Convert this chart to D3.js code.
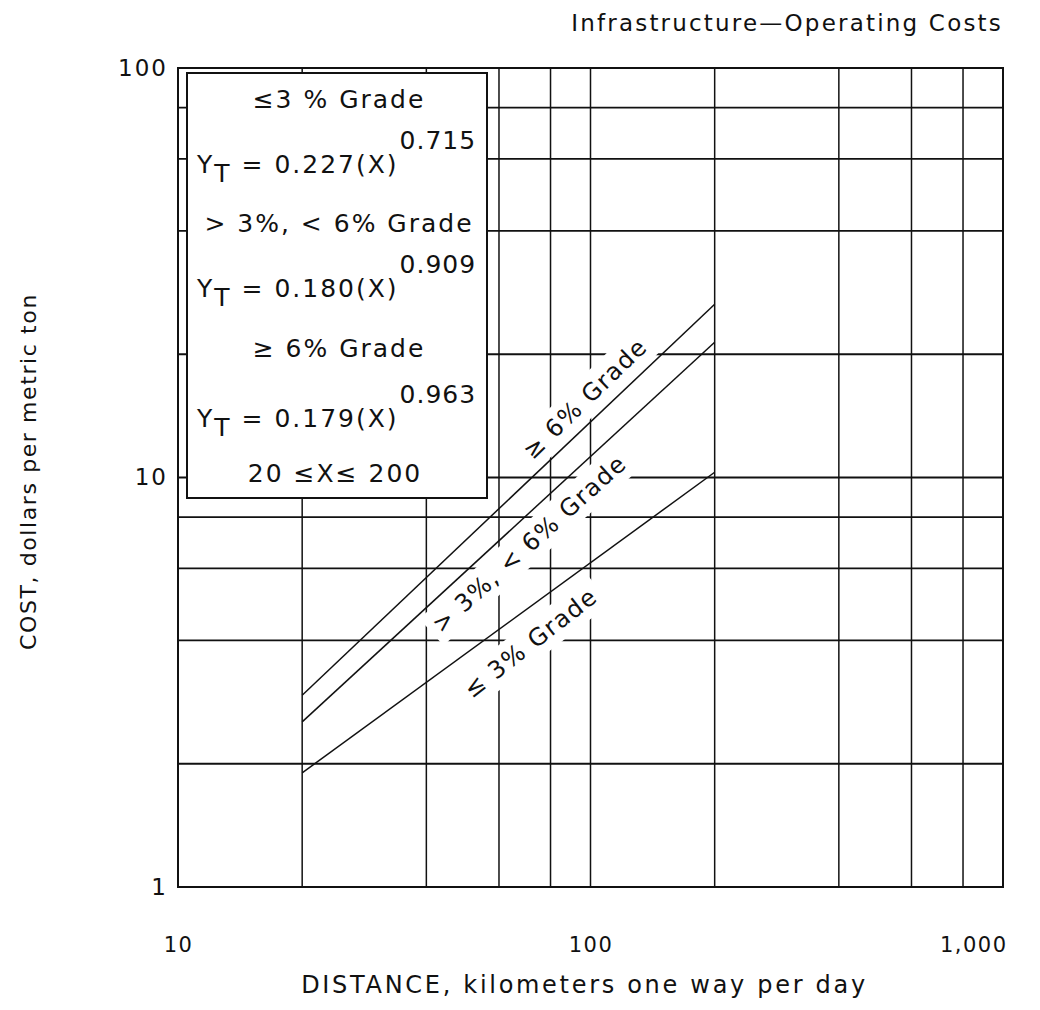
<!DOCTYPE html>
<html>
<head>
<meta charset="utf-8">
<script src="https://cdn.jsdelivr.net/npm/d3@7"></script>
<style>
  body { margin: 0; background: #fff; }
  text { font-family: "DejaVu Sans", sans-serif; fill: #111; }
</style>
</head>
<body>
<div id="chart"></div>
<script>
// chart data
var xTicks = [10, 100, 1000];
var yTicks = [1, 10, 100];
var xGrid = [20, 40, 60, 80, 100, 200, 400, 600, 800];
var yGrid = [2, 4, 6, 8, 10, 20, 40, 60, 80];

var distance = [20, 200];
var costLow = [1.9, 10.3];    // <= 3% grade
var costMid = [2.53, 21.4];   // > 3%, < 6% grade
var costHigh = [2.94, 26.5];  // >= 6% grade

var gradeLabels = ["\u2264 3% Grade", "> 3%,  < 6% Grade", "\u2265 6% Grade"];
// where each grade label sits, in data units (distance, cost), and its angle
var labelX = [71.5, 71, 97];
var labelY = [3.95, 6.9, 15.6];
var labelAngle = [-38, -42, -44];

var svgWidth = 1040;
var svgHeight = 1010;

var margin = { top: 68, right: 37, bottom: 123, left: 178 };
var width = svgWidth - margin.left - margin.right;
var height = svgHeight - margin.top - margin.bottom;

var svg = d3.select("#chart")
  .append("svg")
  .attr("width", svgWidth)
  .attr("height", svgHeight);

var chartGroup = svg.append("g")
  .attr("transform", `translate(${margin.left}, ${margin.top})`);

// scales
var xLogScale = d3.scaleLog().domain([10, 1000]).range([0, width]);
var yLogScale = d3.scaleLog().domain([1, 100]).range([height, 0]);

// grid lines
chartGroup.selectAll(".vgrid")
  .data(xGrid)
  .enter()
  .append("line")
  .attr("x1", d => xLogScale(d))
  .attr("x2", d => xLogScale(d))
  .attr("y1", 0)
  .attr("y2", height)
  .attr("stroke", "#111")
  .attr("stroke-width", 1.5);

chartGroup.selectAll(".hgrid")
  .data(yGrid)
  .enter()
  .append("line")
  .attr("x1", 0)
  .attr("x2", width)
  .attr("y1", d => yLogScale(d))
  .attr("y2", d => yLogScale(d))
  .attr("stroke", "#111")
  .attr("stroke-width", 1.8);

// frame
chartGroup.append("rect")
  .attr("width", width)
  .attr("height", height)
  .attr("fill", "none")
  .attr("stroke", "#111")
  .attr("stroke-width", 2);

// axes (labels only, the frame is the axis line)
var bottomAxis = d3.axisBottom(xLogScale)
  .tickValues(xTicks)
  .tickFormat(d3.format(","))
  .tickSize(0)
  .tickPadding(50);

var leftAxis = d3.axisLeft(yLogScale)
  .tickValues(yTicks)
  .tickFormat(d3.format(","))
  .tickSize(0)
  .tickPadding(10);

var xAxisG = chartGroup.append("g")
  .attr("transform", `translate(0, ${height})`)
  .call(bottomAxis);

var yAxisG = chartGroup.append("g")
  .call(leftAxis);

xAxisG.select(".domain").remove();
yAxisG.select(".domain").remove();
xAxisG.selectAll("text")
  .style("font-family", "DejaVu Sans, sans-serif")
  .style("font-size", "21px")
  .style("letter-spacing", "1.5px")
  .attr("fill", "#111");
yAxisG.selectAll("text")
  .style("font-family", "DejaVu Sans, sans-serif")
  .style("font-size", "23px")
  .style("letter-spacing", "2px")
  .attr("fill", "#111");
xAxisG.selectAll("text").filter(d => d === 1000).attr("text-anchor", "end").attr("dx", "4");

// grade labels, with a white patch behind so the grid breaks round them
var labelGroups = chartGroup.selectAll(".gradeLabel")
  .data(gradeLabels)
  .enter()
  .append("g")
  .classed("gradeLabel", true)
  .attr("transform", (d, i) => `translate(${xLogScale(labelX[i])}, ${yLogScale(labelY[i])}) rotate(${labelAngle[i]})`);

labelGroups.append("rect").attr("fill", "#fff");

labelGroups.append("text")
  .attr("text-anchor", "middle")
  .attr("dy", "0.35em")
  .style("font-size", "24px")
  .style("letter-spacing", "1.5px")
  .text(d => d);

labelGroups.each(function() {
  var g = d3.select(this);
  var bb = g.select("text").node().getBBox();
  g.select("rect")
    .attr("x", bb.x - 6)
    .attr("y", bb.y - 4)
    .attr("width", bb.width + 12)
    .attr("height", bb.height + 8);
});

// the three cost lines
var lineGen = d3.line()
  .x(d => xLogScale(d[0]))
  .y(d => yLogScale(d[1]));

[costLow, costMid, costHigh].forEach(function(cost) {
  chartGroup.append("path")
    .datum(distance.map((d, i) => [d, cost[i]]))
    .attr("d", lineGen)
    .attr("fill", "none")
    .attr("stroke", "#111")
    .attr("stroke-width", 1.5);
});

// legend box with the equations
var legend = chartGroup.append("g")
  .attr("transform", "translate(9, 5)");

legend.append("rect")
  .attr("width", 300)
  .attr("height", 425)
  .attr("fill", "#fff")
  .attr("stroke", "#111")
  .attr("stroke-width", 2);

var legendCenter = 152;
var eqLeft = 10;

var legendHeads = ["\u22643 % Grade", "> 3%, < 6% Grade", "\u2265 6% Grade"];
var legendCoef = ["0.227", "0.180", "0.179"];
var legendExp = ["0.715", "0.909", "0.963"];
var headY = [35, 159, 284];
var eqY = [100, 224, 354];

legend.selectAll(".head")
  .data(legendHeads)
  .enter()
  .append("text")
  .attr("x", legendCenter)
  .attr("y", (d, i) => headY[i])
  .attr("text-anchor", "middle")
  .style("font-size", "25px")
  .style("letter-spacing", "2px")
  .text(d => d);

legendCoef.forEach(function(c, i) {
  var t = legend.append("text")
    .attr("x", eqLeft)
    .attr("y", eqY[i])
    .style("font-size", "25px")
    .style("letter-spacing", "2px");
  t.append("tspan").text("Y");
  t.append("tspan").attr("dy", 9).attr("dx", 0).text("T");
  t.append("tspan").attr("dy", -9).text(" = " + c + "(X)");
  t.append("tspan")
    .attr("dy", -24)
    .attr("dx", 1)
    .style("letter-spacing", "1px")
    .text(legendExp[i]);
});

legend.append("text")
  .attr("x", legendCenter - 4)
  .attr("y", 409)
  .attr("text-anchor", "middle")
  .style("font-size", "25px")
  .style("letter-spacing", "2px")
  .text("20 \u2264X\u2264  200");

// titles
svg.append("text")
  .attr("x", margin.left + width)
  .attr("y", 31)
  .attr("text-anchor", "end")
  .style("font-size", "23px")
  .style("letter-spacing", "2.2px")
  .text("Infrastructure\u2014Operating Costs");

chartGroup.append("text")
  .attr("transform", `translate(${width / 2 - 6}, ${height + 106})`)
  .attr("text-anchor", "middle")
  .style("font-size", "24px")
  .style("letter-spacing", "2.7px")
  .text("DISTANCE, kilometers one way per day");

chartGroup.append("text")
  .attr("transform", "rotate(-90)")
  .attr("x", 0 - (height / 2) + 6)
  .attr("y", 0 - margin.left + 36)
  .attr("text-anchor", "middle")
  .style("font-size", "22px")
  .style("letter-spacing", "1.6px")
  .text("COST, dollars per metric ton");
</script>
</body>
</html>
